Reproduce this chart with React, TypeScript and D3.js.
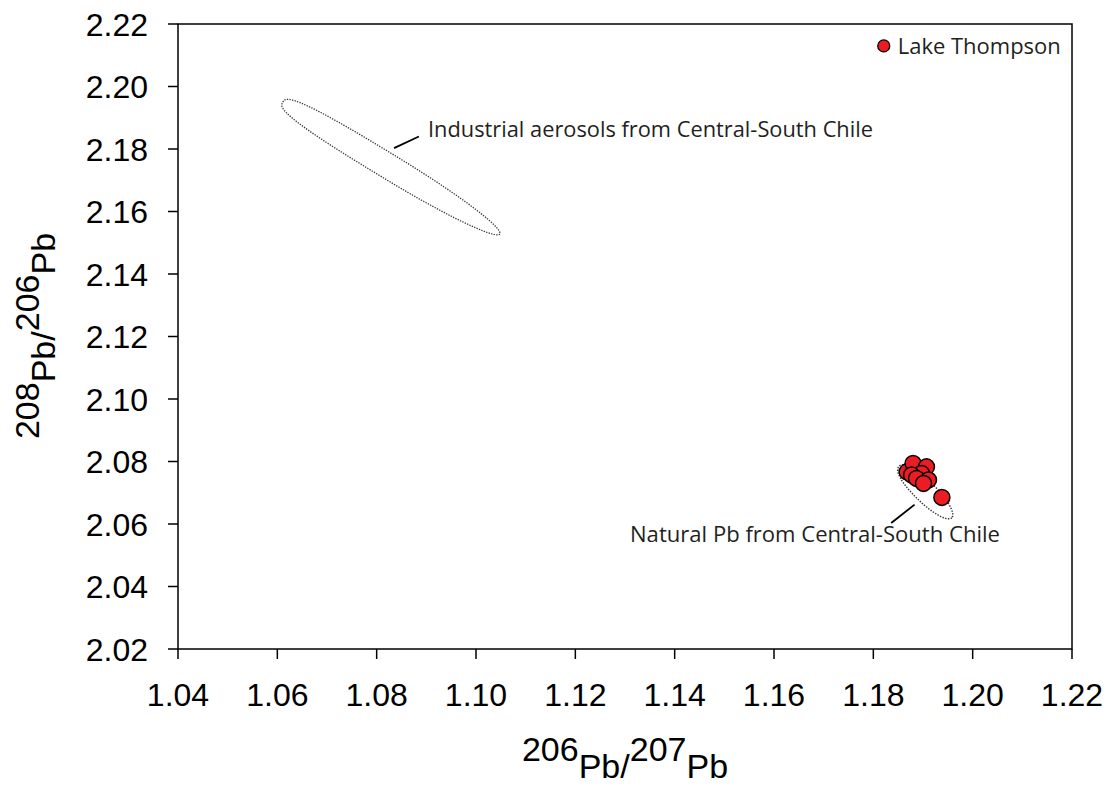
import React from "react";
import * as d3 from "d3";

const xTicks = [1.04, 1.06, 1.08, 1.1, 1.12, 1.14, 1.16, 1.18, 1.2, 1.22];
const yTicks = [2.02, 2.04, 2.06, 2.08, 2.1, 2.12, 2.14, 2.16, 2.18, 2.2, 2.22];

const naturalX = [1.1868, 1.188, 1.1907, 1.1897, 1.1877, 1.1887, 1.1911, 1.1901, 1.1938];
const naturalY = [2.0767, 2.0794, 2.0783, 2.0762, 2.0757, 2.0746, 2.0741, 2.073, 2.0685];

const lakeX = [1.1821];
const lakeY = [2.213];

// ellipse fields: major-axis endpoints in data units
const industrialEnds = [[1.0611, 2.195], [1.1048, 2.1528]];
const naturalEnds = [[1.1852, 2.0785], [1.1958, 2.062]];

const W = 1113;
const H = 786;
const M = { left: 178, right: 1072, top: 24, bottom: 649 };

const x = d3.scaleLinear().domain([1.04, 1.22]).range([M.left, M.right]);
const y = d3.scaleLinear().domain([2.02, 2.22]).range([M.bottom, M.top]);

function fieldPath(ends: number[][], halfW: number, leftExp: number) {
  const [p0, p1] = ends;
  const x0 = x(p0[0]), y0 = y(p0[1]), x1 = x(p1[0]), y1 = y(p1[1]);
  const cx = (x0 + x1) / 2, cy = (y0 + y1) / 2;
  const a = Math.hypot(x1 - x0, y1 - y0) / 2;
  const ang = Math.atan2(y1 - y0, x1 - x0);
  const pts: [number, number][] = [];
  for (let i = 0; i <= 200; i++) {
    const t = (i / 200) * Math.PI * 2;
    const c = Math.cos(t), s = Math.sin(t);
    const n = c < 0 ? leftExp : 2;
    const u = Math.sign(c) * a * Math.pow(Math.abs(c), 2 / n);
    const v = Math.sign(s) * halfW * Math.pow(Math.abs(s), 2 / n);
    pts.push([cx + u * Math.cos(ang) - v * Math.sin(ang), cy + u * Math.sin(ang) + v * Math.cos(ang)]);
  }
  return d3.line()(pts) + "Z";
}

const labelFont = "'Open Sans', Lato, sans-serif";
const axisFont = "'Liberation Sans', Arial, sans-serif";

export default function App() {
  const red = "#ec1c24";
  return (
    <svg width={W} height={H} style={{ position: "absolute", left: 0, top: 0, background: "#fff" }}>
      <rect x={0} y={0} width={W} height={H} fill="#fff" />
      {/* frame */}
      <rect x={M.left} y={M.top} width={M.right - M.left} height={M.bottom - M.top} fill="none" stroke="#000" strokeWidth={1.5} />
      {/* y ticks */}
      {yTicks.map((t) => (
        <g key={"y" + t}>
          <line x1={M.left - 10} x2={M.left} y1={y(t)} y2={y(t)} stroke="#000" strokeWidth={1.5} />
          <text x={M.left - 30} y={y(t)} dy="0.36em" textAnchor="end" fontFamily={axisFont} fontSize={32} fill="#000">
            {t.toFixed(2)}
          </text>
        </g>
      ))}
      {/* x ticks */}
      {xTicks.map((t) => (
        <g key={"x" + t}>
          <line x1={x(t)} x2={x(t)} y1={M.bottom} y2={M.bottom + 10} stroke="#000" strokeWidth={1.5} />
          <text x={x(t)} y={706} textAnchor="middle" fontFamily={axisFont} fontSize={32} fill="#000">
            {t.toFixed(2)}
          </text>
        </g>
      ))}
      {/* axis titles */}
      <text x={625} y={778} textAnchor="middle" fontFamily={axisFont} fontSize={34} fill="#000">
        <tspan dy={-17}>206</tspan>
        <tspan dy={17}>Pb/</tspan>
        <tspan dy={-17}>207</tspan>
        <tspan dy={17}>Pb</tspan>
      </text>
      <text transform="translate(55,336) rotate(-90)" textAnchor="middle" fontFamily={axisFont} fontSize={34} fill="#000">
        <tspan dy={-16}>208</tspan>
        <tspan dy={16}>Pb/</tspan>
        <tspan dy={-16}>206</tspan>
        <tspan dy={16}>Pb</tspan>
      </text>
      {/* fields */}
      <path d={fieldPath(industrialEnds, 12.5, 3)} fill="none" stroke="#333" strokeWidth={1.3} strokeDasharray="1.3 1.3" />
      <path d={fieldPath(naturalEnds, 10.5, 2.3)} fill="none" stroke="#333" strokeWidth={1.4} strokeDasharray="1.4 1.4" />
      {/* leaders */}
      <line x1={x(1.0835)} y1={y(2.1803)} x2={x(1.0885)} y2={y(2.1840)} stroke="#000" strokeWidth={1.8} />
      <line x1={x(1.1836)} y1={y(2.0603)} x2={x(1.1883)} y2={y(2.0662)} stroke="#000" strokeWidth={1.8} />
      {/* labels */}
      <text x={428} y={137} fontFamily={labelFont} fontSize={22} fill="#231f20" textLength={445} lengthAdjust="spacingAndGlyphs">
        Industrial aerosols from Central-South Chile
      </text>
      <text x={630} y={542} fontFamily={labelFont} fontSize={22} fill="#231f20" textLength={370} lengthAdjust="spacingAndGlyphs">
        Natural Pb from Central-South Chile
      </text>
      {/* natural points */}
      {naturalX.map((v, i) => (
        <circle key={"n" + i} cx={x(v)} cy={y(naturalY[i])} r={8} fill={red} stroke="#000" strokeWidth={1.5} />
      ))}
      {/* lake */}
      {lakeX.map((v, i) => (
        <g key={"l" + i}>
          <circle cx={x(v)} cy={y(lakeY[i])} r={6} fill={red} stroke="#000" strokeWidth={1.3} />
          <text x={x(v) + 14} y={y(lakeY[i])} dy="0.35em" fontFamily={labelFont} fontSize={22} fill="#231f20" textLength={163} lengthAdjust="spacingAndGlyphs">
            Lake Thompson
          </text>
        </g>
      ))}
    </svg>
  );
}
